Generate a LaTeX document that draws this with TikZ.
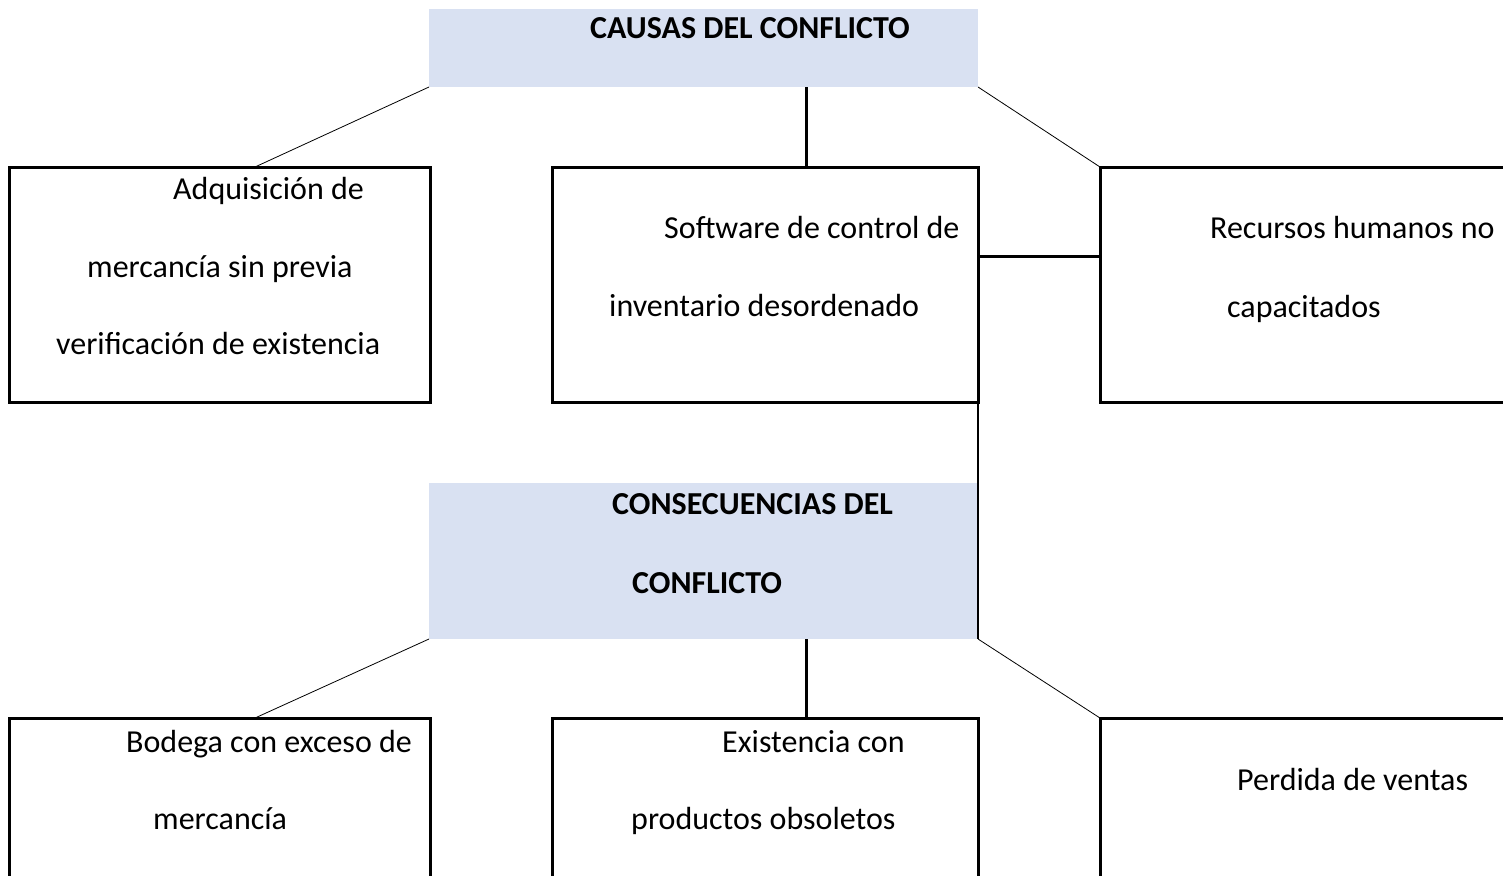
\documentclass[tikz,border=0pt]{standalone}
\usepackage{fontspec}
\setmainfont{Carlito}
\definecolor{headfill}{RGB}{217,225,242}
\tikzset{
  causebox/.style={draw=black,line width=3pt,fill=none,rectangle,inner sep=0pt,outer sep=0pt},
  headbox/.style={draw=none,fill=headfill,rectangle,inner sep=0pt,outer sep=0pt},
  textline/.style={anchor=base west,inner sep=0pt,font=\fontsize{32}{38}\selectfont},
  headline/.style={textline,font=\fontsize{32}{38}\selectfont\bfseries},
  thinlink/.style={draw=black,line width=0.8pt},
  thicklink/.style={draw=black,line width=3pt}
}
\begin{document}
\begin{tikzpicture}[x=1pt,y=-1pt]
\useasboundingbox[fill=white] (0,0) rectangle (1503,875);
\clip (0,0) rectangle (1503,875);
\node[headbox,minimum width=549pt,minimum height=78pt] (head-0) at (703.5,48) {};
\node[causebox,minimum width=421pt,minimum height=235pt] (box-0-0) at (219.5,284.5) {};
\node[causebox,minimum width=426pt,minimum height=235pt] (box-0-1) at (765,284.5) {};
\node[causebox,minimum width=420pt,minimum height=235pt] (box-0-2) at (1310,284.5) {};
\node[headbox,minimum width=549pt,minimum height=156pt] (head-1) at (703.5,561) {};
\node[causebox,minimum width=421pt,minimum height=182pt] (box-1-0) at (219.5,809) {};
\node[causebox,minimum width=426pt,minimum height=182pt] (box-1-1) at (765,809) {};
\node[causebox,minimum width=420pt,minimum height=182pt] (box-1-2) at (1310,809) {};
\path[thinlink] (head-0.south west) -- ([xshift=35.5pt]box-0-0.north);
\path[thicklink] ([xshift=102.5pt]head-0.south) -- ([xshift=102.5pt]head-0.south |- box-0-1.north);
\path[thinlink] (head-0.south east) -- (box-0-2.north west);
\path[thicklink] ([yshift=28.5pt]box-0-1.east) -- ([yshift=28.5pt]box-0-1.east -| box-0-2.west);
\path[draw=black,line width=2pt] (box-0-1.south east) -- (head-1.south east);
\path[thinlink] (head-1.south west) -- ([xshift=35.5pt]box-1-0.north);
\path[thicklink] ([xshift=102.5pt]head-1.south) -- ([xshift=102.5pt]head-1.south |- box-1-1.north);
\path[thinlink] (head-1.south east) -- (box-1-2.north west);
\node[headline] (head-0-0) at (590,39) {CAUSAS DEL CONFLICTO};
\node[textline] (line-0-0-0) at (173,199) {Adquisición de};
\node[textline] (line-0-0-1) at (87,277) {mercancía sin previa};
\node[textline] (line-0-0-2) at (56,354) {verificación de existencia};
\node[textline] (line-0-1-0) at (664,238) {Software de control de};
\node[textline] (line-0-1-1) at (609,316) {inventario desordenado};
\node[textline] (line-0-2-0) at (1210,238) {Recursos humanos no};
\node[textline] (line-0-2-1) at (1227,317) {capacitados};
\node[headline] (head-1-0) at (612,514) {CONSECUENCIAS DEL};
\node[headline] (head-1-1) at (632,593) {CONFLICTO};
\node[textline] (line-1-0-0) at (126,752) {Bodega con exceso de};
\node[textline] (line-1-0-1) at (153,829) {mercancía};
\node[textline] (line-1-1-0) at (722,752) {Existencia con};
\node[textline] (line-1-1-1) at (631,829) {productos obsoletos};
\node[textline] (line-1-2-0) at (1237,790) {Perdida de ventas};
\end{tikzpicture}
\end{document}
